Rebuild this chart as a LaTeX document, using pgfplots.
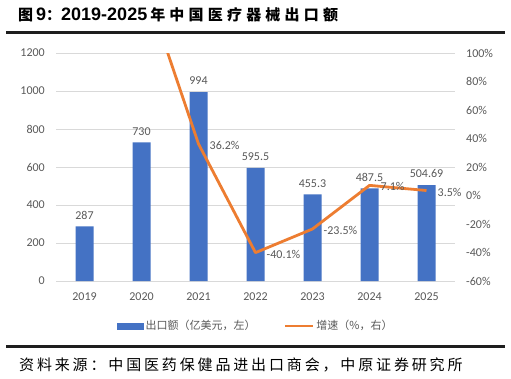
\documentclass[border=0pt]{standalone}
\usepackage{pgfplots}
\pgfplotsset{compat=1.18}
\usepackage{fontspec}
\setmainfont{Carlito}
\newfontfamily\cjk{Noto Sans CJK SC}
\newfontfamily\cjkfoot[LetterSpace=19]{Noto Sans CJK SC}
\newfontfamily\cjkt[LetterSpace=28]{Noto Sans CJK SC}
\newfontfamily\latt{Liberation Sans}
\definecolor{barblue}{HTML}{4472C4}
\definecolor{lineorange}{HTML}{ED7D31}
\definecolor{tickgray}{HTML}{595959}
\definecolor{gridgray}{HTML}{D9D9D9}
\definecolor{rulecol}{HTML}{1E1E1E}
\begin{document}
\begin{tikzpicture}
\fill[white] (0pt,0pt) rectangle (511pt,378pt);
\node[anchor=west, inner sep=0] at (18pt,363pt) {\bfseries{\cjkt\fontsize{15}{18}\selectfont 图}{\latt\fontsize{18}{20}\selectfont\,9}{\cjkt\fontsize{15}{18}\selectfont ：}{\latt\fontsize{18}{20}\selectfont 2019-2025\,}{\cjkt\fontsize{15}{18}\selectfont 年中国医疗器械出口额}};
\node[anchor=west, inner sep=0] at (19pt,13.5pt) {\cjkfoot\fontsize{15}{18}\selectfont 资料来源：中国医药保健品进出口商会，中原证券研究所};

\begin{axis}[
  at={(56pt,97pt)}, anchor=south west, scale only axis, width=399pt, height=228pt,
  xmin=-0.5, xmax=6.5, ymin=0, ymax=1200,
  xtick={0,...,6}, xticklabels={2019,2020,2021,2022,2023,2024,2025},
  ytick={0,200,...,1200},
  axis y line*=left, axis x line*=bottom,
  y axis line style={draw=none}, x axis line style={gridgray, line width=0.8pt, -},
  major tick length=0,
  ymajorgrids, major grid style={gridgray, line width=0.8pt},
  /pgf/number format/assume math mode=true,
  /pgf/number format/1000 sep={},
  tick label style={font=\fontsize{12}{14}\selectfont, text=tickgray, inner sep=0},
  yticklabel style={anchor=east, xshift=-11pt},
  xticklabel style={anchor=center, yshift=-16pt},
]
\addplot[ybar, bar width=18pt, fill=barblue, draw=none,
  nodes near coords, point meta=explicit symbolic,
  nodes near coords style={font=\fontsize{12}{14}\selectfont, text=tickgray, anchor=south, inner sep=0, yshift=7pt}]
coordinates {(0,287)[287] (1,730)[730] (2,994)[994] (3,595.5)[595.5] (4,455.3)[455.3] (5,487.5)[487.5] (6,504.69)[504.69]};
\end{axis}

\begin{axis}[
  at={(56pt,97pt)}, anchor=south west, scale only axis, width=399pt, height=228pt,
  xmin=-0.5, xmax=6.5, ymin=-60, ymax=100,
  ytick={-60,-40,...,100},
  axis y line*=right, axis x line=none,
  y axis line style={draw=none},
  major tick length=0,
  /pgf/number format/assume math mode=true,
  tick label style={font=\fontsize{12}{14}\selectfont, text=tickgray, inner sep=0},
  yticklabel style={anchor=west, xshift=11pt},
  yticklabel={\pgfmathprintnumber{\tick}\%},
  legend style={at={(0.501,-0.197)}, anchor=center, draw=none, fill=none,
    legend columns=2, font=\cjk\fontsize{11}{13}\selectfont, text=tickgray,
    nodes={inner sep=2pt},
    /tikz/every even column/.append style={column sep=26pt}},
]
\addlegendimage{legend image code/.code={\fill[barblue] (0pt,-3pt) rectangle (26pt,3pt);}}
\addlegendentry{出口额（亿美元，左）}
\addplot[lineorange, line width=2.8pt, line join=round, mark=none,
  legend image code/.code={\draw[lineorange, line width=2.8pt] (0pt,0pt) -- (28pt,0pt);}]
coordinates {(1,154.4) (2,36.2) (3,-40.1) (4,-23.5) (5,7.1) (6,3.5)};
\addlegendentry{增速（\%，右）}
\addplot[draw=none, mark=none, forget plot,
  nodes near coords, point meta=explicit symbolic,
  nodes near coords style={font=\fontsize{12}{14}\selectfont, text=tickgray, anchor=west, inner sep=0, xshift=11pt, yshift=-1.5pt}]
coordinates {(2,36.2)[36.2\%] (3,-40.1)[-40.1\%] (4,-23.5)[-23.5\%] (5,7.1)[7.1\%] (6,3.5)[3.5\%]};
\end{axis}
\node[inner sep=0, anchor=center] at (255.5pt,345.5pt) {\color{rulecol}\rule{499pt}{2.8pt}};
\draw[rulecol, line width=2.6pt] (6pt,31.5pt) -- (505pt,31.5pt);
\end{tikzpicture}
\end{document}
